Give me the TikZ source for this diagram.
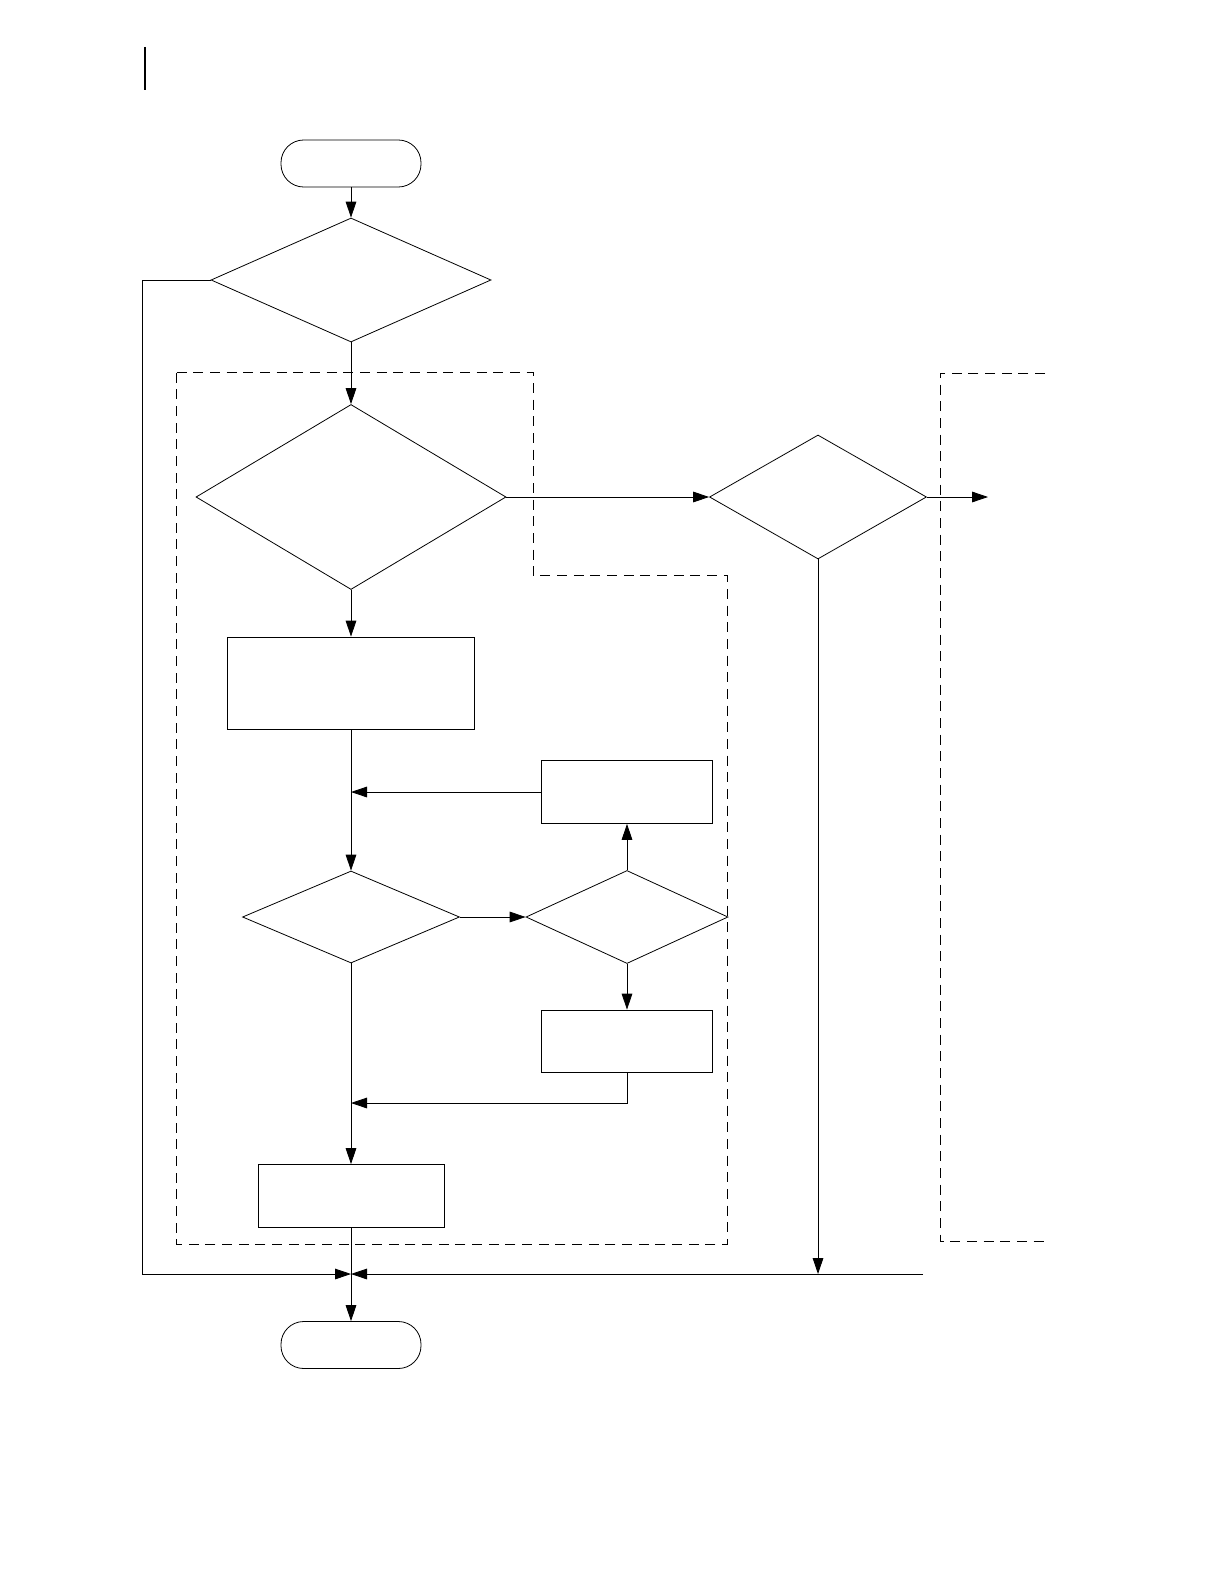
\documentclass[tikz,border=0pt]{standalone}
\usetikzlibrary{shapes.geometric,arrows.meta}
\newlength\pxu
\setlength\pxu{0.75pt}
\begin{document}
\begin{tikzpicture}[x=0.75pt,y=-0.75pt,
  line width=0.6pt,
  >={Triangle[length=12pt,width=8pt]},
  term/.style={draw,rectangle,rounded corners=17pt,minimum width=140\pxu,minimum height=47\pxu,inner sep=0pt},
  box/.style={draw,rectangle,inner sep=0pt},
  dia/.style={draw,diamond,inner sep=0pt},
  frame/.style={dash pattern=on 7.5pt off 5pt, line width=0.6pt}]
\useasboundingbox (0,0) rectangle (1224,1584);
% top mark
\draw[line width=1.6pt] (145,47) -- (145,90);
% nodes
\node[term] (start) at (351,163.5) {};
\node[dia,minimum width=280\pxu,minimum height=124\pxu] (d1) at (351,280) {};
\node[dia,minimum width=310\pxu,minimum height=185\pxu] (d2) at (351,497) {};
\node[dia,minimum width=217\pxu,minimum height=124\pxu] (d3) at (818,497) {};
\node[box,minimum width=247\pxu,minimum height=92\pxu] (r1) at (351,683) {};
\node[box,minimum width=171\pxu,minimum height=63\pxu] (r2) at (627,792) {};
\node[dia,minimum width=217\pxu,minimum height=92\pxu] (d4) at (351,917) {};
\node[dia,minimum width=202\pxu,minimum height=93\pxu] (d5) at (627,917) {};
\node[box,minimum width=171\pxu,minimum height=62\pxu] (r3) at (627,1041) {};
\node[box,minimum width=186\pxu,minimum height=63\pxu] (r4) at (351,1196) {};
\node[term] (endt) at (351,1345) {};
\coordinate (jn) at (351,1274);
\coordinate (lft) at (142,280);
\coordinate (rgt) at (923,1274);
\coordinate (out) at (988,497);
\coordinate (m1) at (351,792);
\coordinate (m2) at (351,1103);
% dashed frames
\draw[frame] (176.7,372.7) -- (533,372.7) -- (533,575.6) -- (727,575.6) -- (727,1244) -- (176.7,1244) -- cycle;
\draw[frame] (1045,373) -- (940,373) -- (940,1241) -- (1045,1241);
% connectors
\draw[->] (start.south) -- (d1.north);
\draw[->] (d1.south) -- (d2.north);
\draw[->] (d1.west) -- (lft) |- (jn);
\draw[->] (d2.east) -- (d3.west);
\draw[->] (d3.east) -- (out);
\draw[->] (d3.south) -- (d3.south |- jn);
\draw[->] (rgt) -- (jn);
\draw[->] (d2.south) -- (r1.north);
\draw[->] (r1.south) -- (d4.north);
\draw[->] (r2.west) -- (m1);
\draw[->] (d4.east) -- (d5.west);
\draw[->] (d5.north) -- (r2.south);
\draw[->] (d5.south) -- (r3.north);
\draw[->] (r3.south) |- (m2);
\draw[->] (d4.south) -- (r4.north);
\draw[->] (r4.south) -- (endt.north);
\end{tikzpicture}
\end{document}
